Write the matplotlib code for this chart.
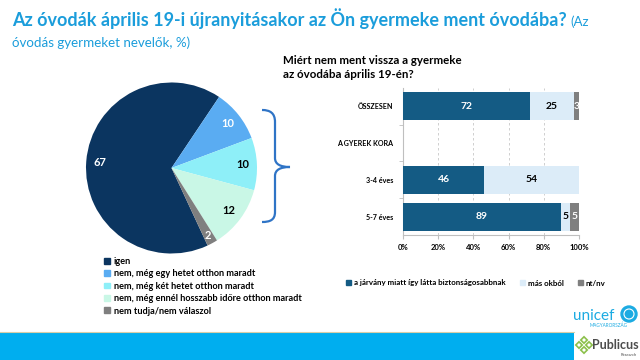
import matplotlib.pyplot as plt
import numpy as np
from matplotlib.patches import Rectangle, Patch, PathPatch, Circle, RegularPolygon
from matplotlib.path import Path

plt.rcParams['font.family'] = ['Lato', 'DejaVu Sans']

# kördiagram adatai
pie_labels = [
    "igen",
    "nem, még egy hetet otthon maradt",
    "nem, még két hetet otthon maradt",
    "nem, még ennél hosszabb időre otthon maradt",
    "nem tudja/nem válaszol",
]
pie_values = [67, 10, 10, 12, 2]
pie_colors = ["#0b3560", "#5aacf2", "#8eeff8", "#c9f7e6", "#7f7f7f"]
pie_text_colors = ["white", "white", "black", "black", "white"]

# oszlopdiagram adatai
bar_cats = ["ÖSSZESEN", "A GYEREK KORA", "3-4 éves", "5-7 éves"]
bar_jarvany = [72, 0, 46, 89]
bar_mas = [25, 0, 54, 5]
bar_ntnv = [3, 0, 0, 5]
bar_series = ["a járvány miatt így látta biztonságosabbnak", "más okból", "nt/nv"]
bar_colors = ["#145b84", "#dcecf8", "#7f7f7f"]
bar_text_colors = ["white", "black", "white"]
x_ticks = [0, 20, 40, 60, 80, 100]

W, H = 640, 360
fig = plt.figure(figsize=(6.4, 3.6), dpi=100)


def fx(x):
    return x / W


def fy(y):
    return 1 - y / H


# háttér réteg (pixel koordináták)
bg = fig.add_axes([0, 0, 1, 1])
bg.set_xlim(0, W)
bg.set_ylim(H, 0)
bg.axis("off")

# cím
blue = "#1b9ddb"
t = fig.text(fx(12), fy(26), "Az óvodák április 19-i újranyitásakor az Ön gyermeke ment óvodába?",
             fontsize=13, fontweight="bold", color=blue, va="baseline")
renderer = fig.canvas.get_renderer()
bb = t.get_window_extent(renderer)
fig.text(bb.x1 / W + 0.006, fy(26), "(Az", fontsize=9.6, color=blue, va="baseline")
fig.text(fx(12), fy(47), "óvodás gyermeket nevelők, %)", fontsize=9.6, color=blue, va="baseline")

# kördiagram
pax = fig.add_axes([fx(86), fy(253.5), 171 / W, 171 / H])
total = sum(pie_values)
wedges, texts, autotexts = pax.pie(
    pie_values,
    colors=pie_colors,
    startangle=295,
    counterclock=False,
    autopct=lambda p: f"{p * total / 100:.0f}",
    pctdistance=0.84,
    wedgeprops=dict(linewidth=0),
    textprops=dict(fontsize=8, fontweight="bold"),
)
for txt, c in zip(autotexts, pie_text_colors):
    txt.set_color(c)
x0, y0 = autotexts[4].get_position()
autotexts[4].set_position((x0 * 1.07, y0 * 1.07))
pax.set_xlim(-1, 1)
pax.set_ylim(-1, 1)

fig.legend(
    handles=[Patch(color=c, label=l) for c, l in zip(pie_colors, pie_labels)],
    loc="upper left",
    bbox_to_anchor=(fx(104), fy(257)),
    frameon=False,
    prop={"size": 6.6, "weight": "bold"},
    handlelength=0.6,
    handleheight=0.6,
    handletextpad=0.45,
    labelspacing=0.37,
    borderpad=0,
    borderaxespad=0,
)

# kapcsos zárójel
verts = [
    (262, 110), (270, 110), (275, 113), (275, 122),
    (275, 158),
    (275, 164), (280, 167), (290, 167),
    (280, 167), (275, 170), (275, 176),
    (275, 212),
    (275, 220), (270, 222), (262, 222),
]
codes = [Path.MOVETO] + [Path.CURVE4] * 3 + [Path.LINETO] + [Path.CURVE4] * 6 + [Path.LINETO] + [Path.CURVE4] * 3
bg.add_patch(PathPatch(Path(verts, codes), fill=False, edgecolor="#2f74c6", linewidth=1.6))

# oszlopdiagram
fig.text(fx(283), fy(55), "Miért nem ment vissza a gyermeke\naz óvodába április 19-én?",
         fontsize=8.3, fontweight="bold", va="top", linespacing=1.35)

bax = fig.add_axes([fx(403), fy(235.3), (579 - 403) / W, (235.3 - 87.6) / H])
data = np.array([bar_jarvany, bar_mas, bar_ntnv], dtype=float)
row_tot = data.sum(axis=0)
shares = np.divide(data, row_tot, out=np.zeros_like(data), where=row_tot > 0)
ypos = np.arange(len(bar_cats))
left = np.zeros(len(bar_cats))
for i in range(len(bar_series)):
    bax.barh(ypos, shares[i], left=left, height=0.75, color=bar_colors[i], linewidth=0,
             label=bar_series[i], zorder=3)
    for j in range(len(bar_cats)):
        if data[i, j] > 0:
            bax.text(left[j] + shares[i, j] / 2, ypos[j], f"{data[i, j]:.0f}", ha="center", va="center",
                     fontsize=7.5, fontweight="bold", color=bar_text_colors[i], zorder=4)
    left += shares[i]

bax.set_xlim(0, 1)
bax.set_ylim(len(bar_cats) - 0.5, -0.5)
bax.set_xticks(np.array(x_ticks) / 100)
bax.set_xticklabels([f"{v}%" for v in x_ticks], fontsize=5.5, fontweight="bold")
bax.set_yticks(ypos)
bax.set_yticklabels(bar_cats, fontsize=5.1, fontweight="bold")
bax.set_yticks(ypos[:-1] + 0.5, minor=True)
bax.tick_params(axis="y", which="major", length=0, pad=7)
bax.tick_params(axis="y", which="minor", length=3, color="#bfbfbf")
bax.tick_params(axis="x", length=3, color="#bfbfbf", pad=3)
bax.grid(axis="x", linestyle=(0, (3, 3)), color="#c8c8c8", linewidth=0.6, zorder=0)
for s in ["top", "right"]:
    bax.spines[s].set_visible(False)
for s in ["left", "bottom"]:
    bax.spines[s].set_color("#bfbfbf")
    bax.spines[s].set_linewidth(0.8)

fig.legend(
    handles=[Patch(color=c, label=l) for c, l in zip(bar_colors, bar_series)],
    loc="center left",
    bbox_to_anchor=(fx(346), fy(283)),
    ncol=3,
    frameon=False,
    prop={"size": 5.7, "weight": "bold"},
    handlelength=0.6,
    handleheight=0.6,
    handletextpad=0.4,
    columnspacing=1.8,
    borderpad=0,
    borderaxespad=0,
)

# alsó sáv és logók
bg.add_patch(Rectangle((0, 332), 574, 28, color="#00aeef", linewidth=0))
bg.plot([0, 574], [332, 332], color="#d9cfa8", linewidth=0.8)
bg.text(573, 316, "unicef", fontsize=11, color="#1cabe2", va="center", ha="left")
bg.add_patch(Circle((629, 314), 8, color="#1cabe2"))
bg.add_patch(Circle((629, 314), 5, fill=False, edgecolor="white", linewidth=0.8))
bg.text(609, 325, "MAGYARORSZÁG", fontsize=3.3, color="#1cabe2", ha="center", va="center")
for dx, dy in [(0, -5), (-5, 0), (5, 0), (0, 5)]:
    bg.add_patch(RegularPolygon((584 + dx, 345 + dy), 4, radius=3.2, orientation=0,
                                facecolor="white", edgecolor="#8cc04b", linewidth=1.2))
bg.text(592, 345, "Publicus", fontsize=9, fontweight="bold", color="#4d4d4d", va="center", ha="left")
bg.text(637, 355, "Research", fontsize=3, color="#4d4d4d", va="center", ha="right")

fig.savefig("out.png", dpi=100)
